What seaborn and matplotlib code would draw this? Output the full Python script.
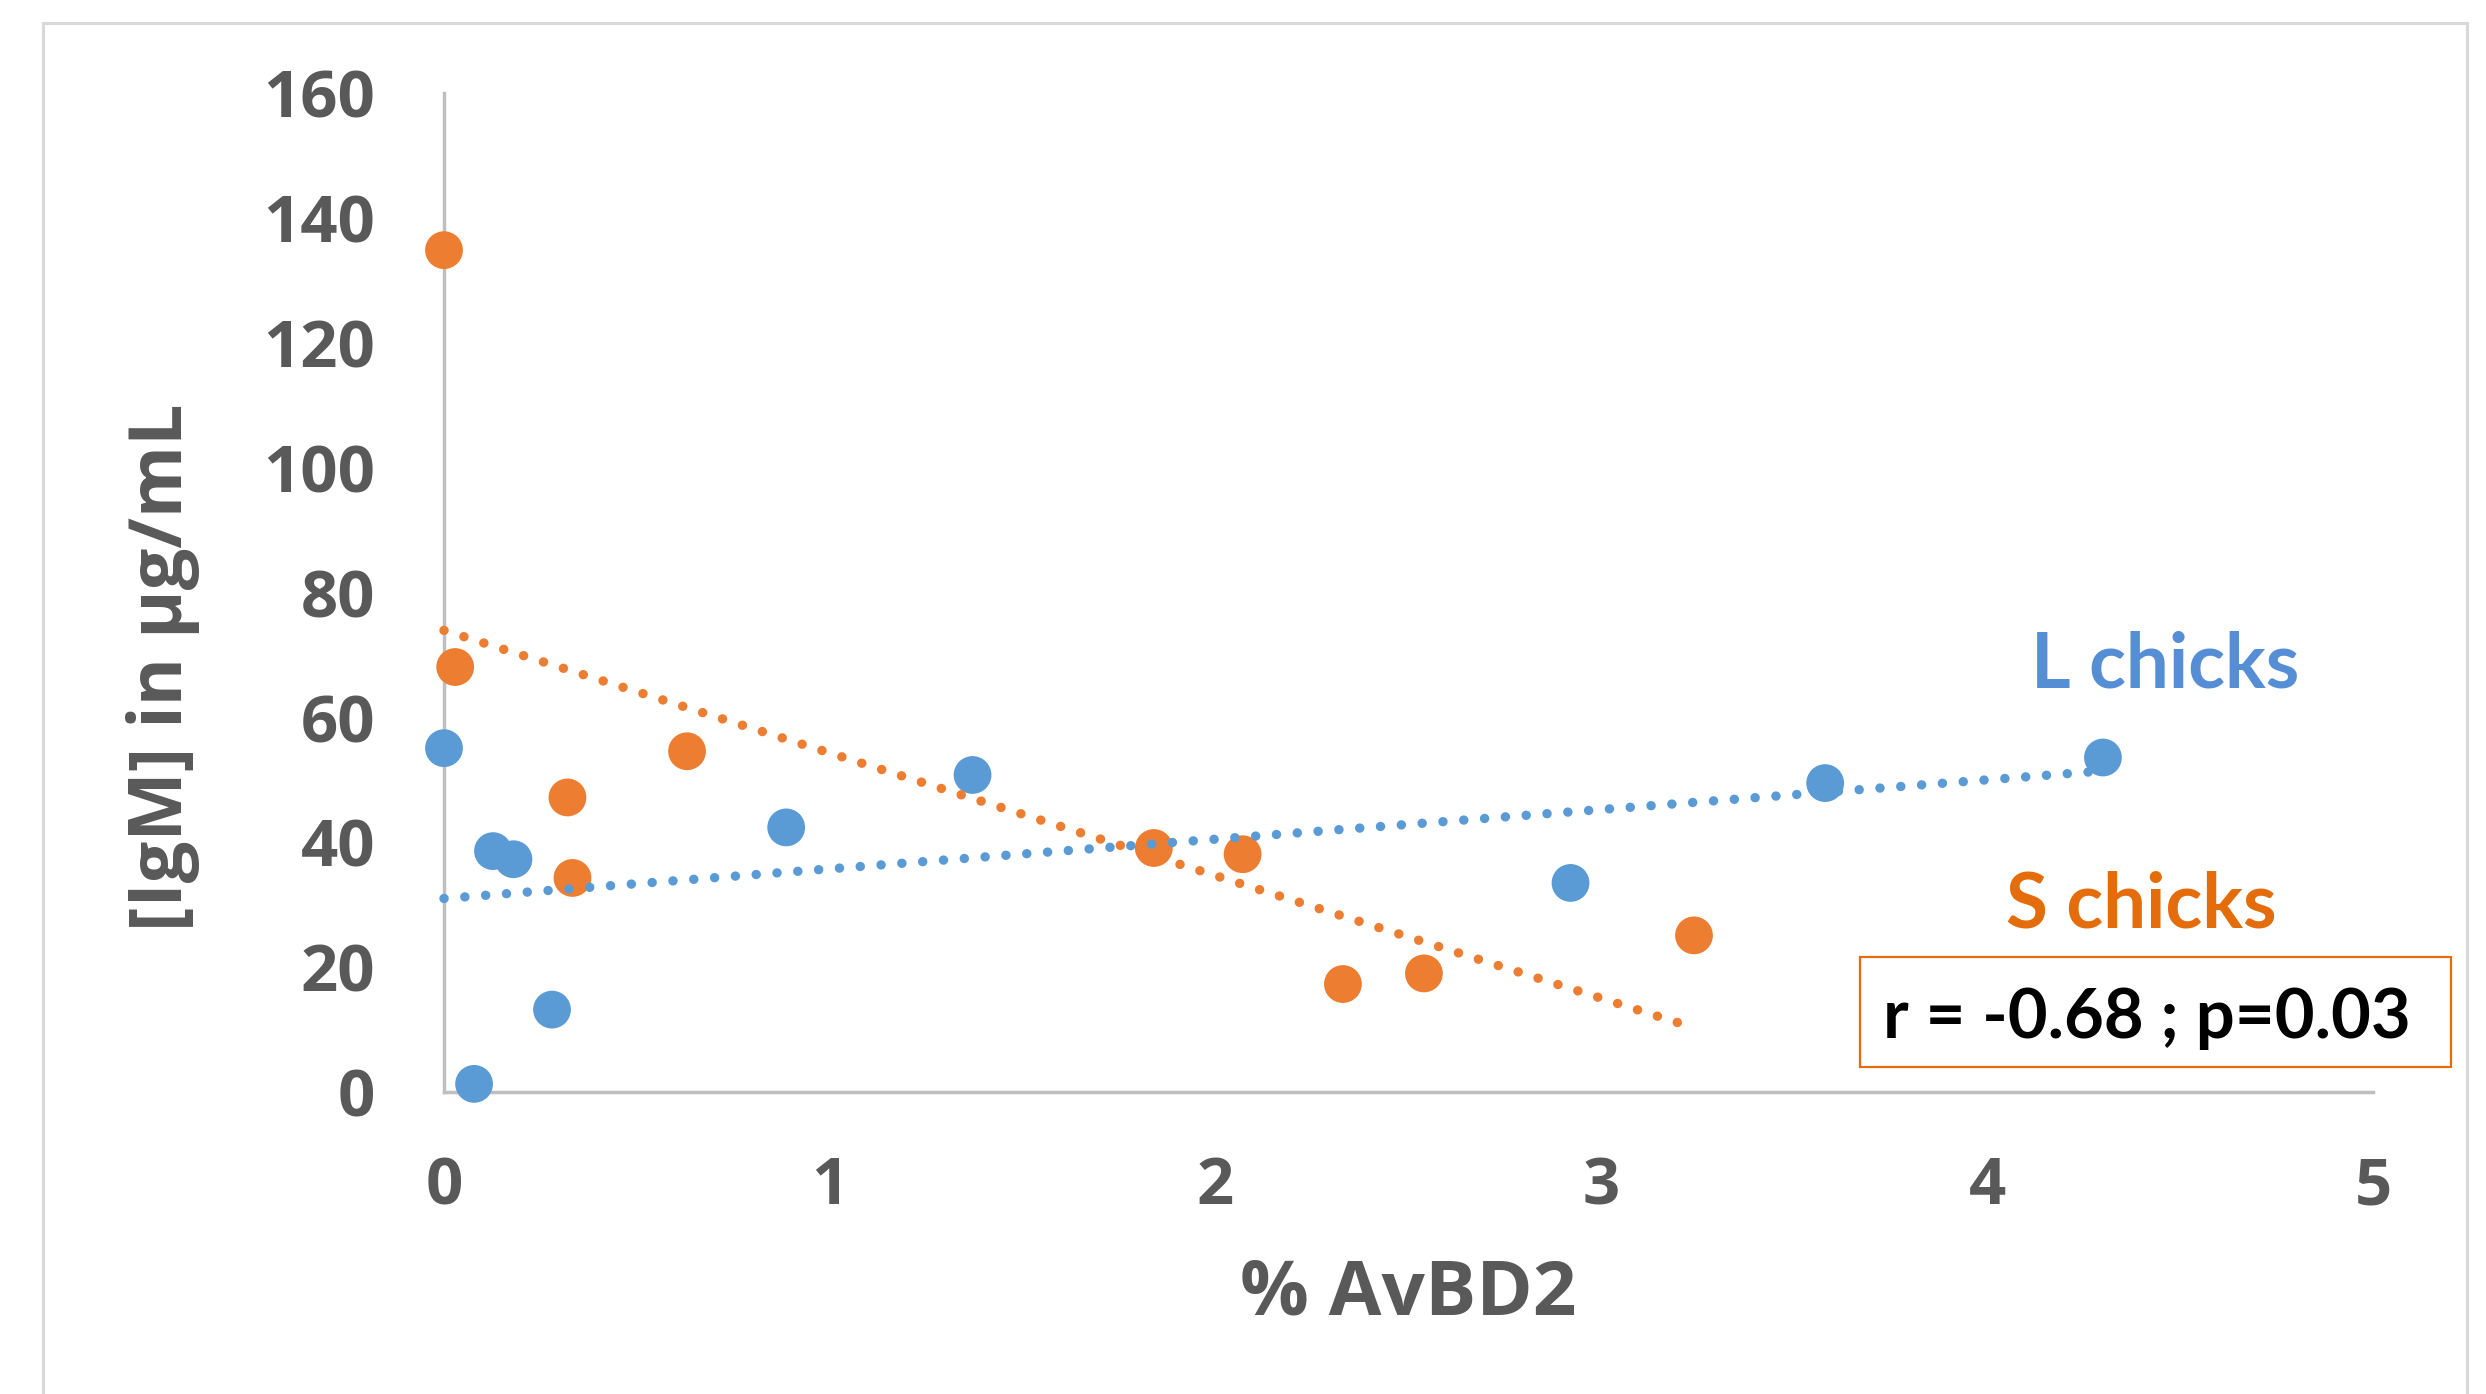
import numpy as np
import pandas as pd
import seaborn as sns
import matplotlib
matplotlib.use("Agg")
import matplotlib.pyplot as plt
from matplotlib.patches import Rectangle

# ---- data ----
l_x = [0.0, 0.127, 0.18, 0.28, 0.078, 0.887, 1.37, 2.92, 3.58, 4.30]
l_y = [55.1, 38.6, 37.3, 13.2, 1.3, 42.4, 50.8, 33.5, 49.5, 53.6]
s_x = [0.0, 0.029, 0.63, 0.32, 0.333, 1.84, 2.07, 2.33, 2.54, 3.24]
s_y = [134.9, 68.1, 54.6, 47.2, 34.3, 39.1, 38.1, 17.3, 19.0, 25.1]
groups = ["L chicks", "S chicks"]
x_ticks = [0, 1, 2, 3, 4, 5]
y_ticks = [0, 20, 40, 60, 80, 100, 120, 140, 160]
x_label = "% AvBD2"
y_label = "[IgM] in µg/mL"
annotation = "r = -0.68 ; p=0.03"

df = pd.DataFrame({
    "x": l_x + s_x,
    "y": l_y + s_y,
    "group": [groups[0]] * len(l_x) + [groups[1]] * len(s_x),
})

marker_colors = {"L chicks": "#5B9BD5", "S chicks": "#ED7D31"}
text_colors = {"L chicks": "#558ED5", "S chicks": "#E46C0A"}

sns.set_style("white")
plt.rcParams["font.family"] = ["Open Sans", "DejaVu Sans"]

W, H = 2486, 1394
fig = plt.figure(figsize=(W / 100, H / 100), dpi=100)
ax = fig.add_axes([444 / W, 1 - 1092 / H, (2373 - 444) / W, (1092 - 93.5) / H])

sns.scatterplot(data=df, x="x", y="y", hue="group", palette=marker_colors,
                s=740, edgecolor="none", linewidth=0, legend=False,
                zorder=3, clip_on=False, ax=ax)

for g in groups:
    sub = df[df["group"] == g]
    sns.regplot(data=sub, x="x", y="y", scatter=False, ci=None, truncate=True,
                color=marker_colors[g],
                line_kws=dict(lw=6.8, linestyle=(0, (0.01, 2.2)),
                              dash_capstyle="round", zorder=4, clip_on=False),
                ax=ax)

ax.set_xlim(0, 5)
ax.set_ylim(0, 160)
ax.set_xticks(x_ticks)
ax.set_yticks(y_ticks)
ax.set_xticklabels([str(t) for t in x_ticks])
ax.set_yticklabels([str(t) for t in y_ticks])

for s in ["top", "right"]:
    ax.spines[s].set_visible(False)
for s in ["left", "bottom"]:
    ax.spines[s].set_color("#BFBFBF")
    ax.spines[s].set_linewidth(2.5)
    ax.spines[s].set_zorder(1)

ax.tick_params(axis="both", direction="out", length=16.5, width=2.5,
               color="#BFBFBF", labelcolor="#595959", labelsize=47)
ax.tick_params(axis="y", pad=33)
ax.tick_params(axis="x", pad=29)
for lbl in ax.get_xticklabels() + ax.get_yticklabels():
    lbl.set_fontweight("bold")

ax.set_xlabel(x_label, fontsize=55, fontweight="bold", color="#595959")
ax.set_ylabel(y_label, fontsize=53, fontweight="bold", color="#595959")
ax.xaxis.set_label_coords(0.5, -0.2232)
ax.xaxis.label.set_va("baseline")
ax.yaxis.set_label_coords(-0.1457, 0.4257)
ax.yaxis.label.set_va("center")
ax.yaxis.label.set_ha("center")

# group labels
fig.text(2031 / W, 1 - 687 / H, groups[0], fontsize=55, fontweight="bold",
         color=text_colors[groups[0]], family=["Lato", "DejaVu Sans"],
         ha="left", va="baseline")
fig.text(2006 / W, 1 - 928 / H, groups[1], fontsize=55, fontweight="bold",
         color=text_colors[groups[1]], family=["Lato", "DejaVu Sans"],
         ha="left", va="baseline")

# annotation box
fig.add_artist(Rectangle((1860 / W, 1 - 1067 / H), (2451 - 1860) / W, (1067 - 957) / H,
                         transform=fig.transFigure, fill=False,
                         edgecolor="#E46C0A", lw=1.6))
fig.text(1883 / W, 1 - 1038 / H, annotation, fontsize=49.5, fontweight="bold",
         color="black", family=["Lato", "DejaVu Sans"], ha="left", va="baseline")

# outer chart border
fig.add_artist(Rectangle((43 / W, -0.1), (2467 - 43) / W, 1.1 - 23 / H,
                         transform=fig.transFigure, fill=False,
                         edgecolor="#D9D9D9", lw=2.2))

fig.savefig("out.png", dpi=100, facecolor="white")
